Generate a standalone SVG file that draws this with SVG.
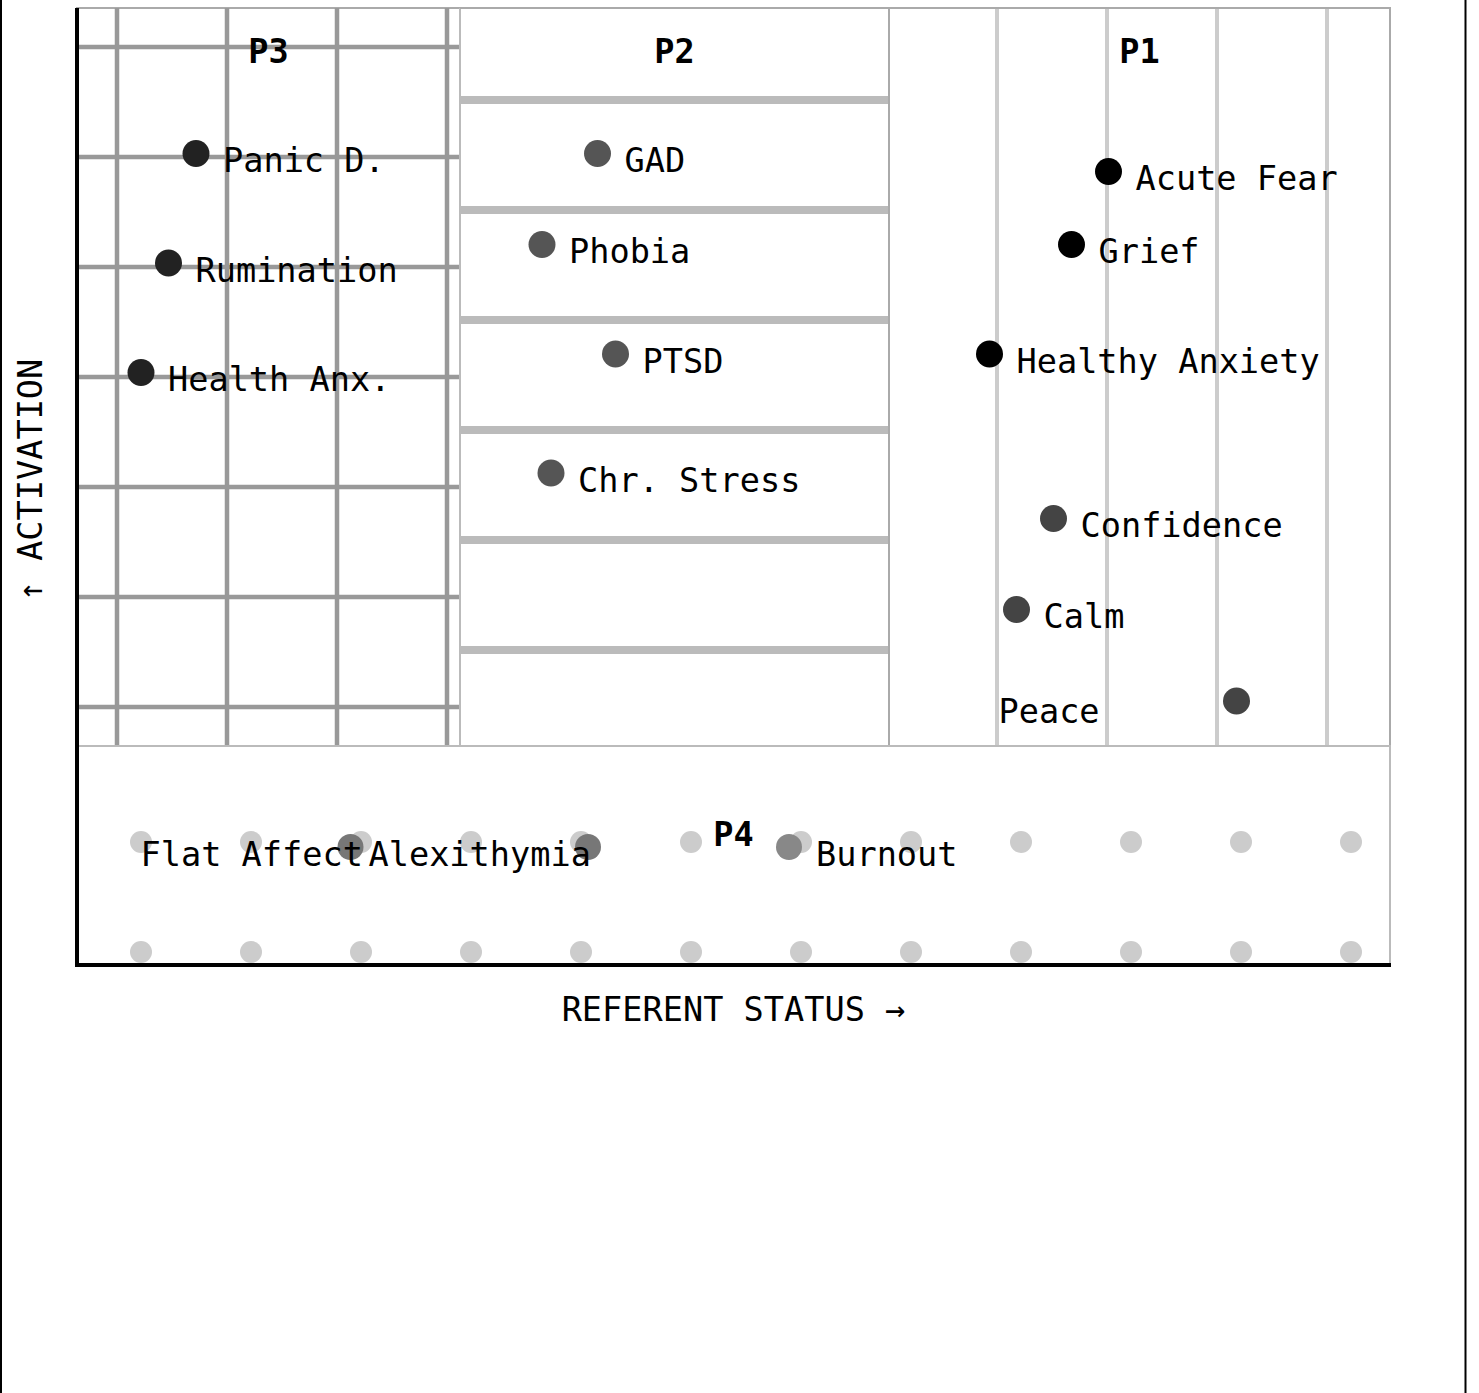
<svg xmlns="http://www.w3.org/2000/svg" width="1479" height="1393" viewBox="0 0 1479 1393">
<style>
  .lbl { font-family: "DejaVu Sans Mono", "Liberation Mono", monospace; font-size: 33.6px; fill: #000; }
  .ptitle { font-family: "DejaVu Sans Mono", "Liberation Mono", monospace; font-size: 33.6px; font-weight: bold; fill: #000; text-anchor: middle; }
  .region { fill: #fff; stroke: #aaa; stroke-width: 2; }
  .g3 { stroke: #999; stroke-width: 4.5; }
  .g2 { stroke: #bbb; stroke-width: 8; }
  .g1 { stroke: #ccc; stroke-width: 4; }
  .dot { fill: #ccc; }
  .axis { stroke: #000; stroke-width: 4; }
</style>
<rect x="0" y="0" width="1479" height="1393" fill="#fff"/>
<g id="frame">
  <line x1="1" y1="0" x2="1" y2="1393" stroke="#000" stroke-width="2"/>
  <line x1="1465.5" y1="0" x2="1465.5" y2="1393" stroke="#000" stroke-width="2"/>
</g>

<g id="region-P3">
  <rect class="region" x="77" y="8" width="383" height="738"/>
  <g class="g3">
    <line x1="117" y1="8" x2="117" y2="746"/>
    <line x1="227" y1="8" x2="227" y2="746"/>
    <line x1="337" y1="8" x2="337" y2="746"/>
    <line x1="447" y1="8" x2="447" y2="746"/>
    <line x1="77" y1="47" x2="460" y2="47"/>
    <line x1="77" y1="157" x2="460" y2="157"/>
    <line x1="77" y1="267" x2="460" y2="267"/>
    <line x1="77" y1="377" x2="460" y2="377"/>
    <line x1="77" y1="487" x2="460" y2="487"/>
    <line x1="77" y1="597" x2="460" y2="597"/>
    <line x1="77" y1="707" x2="460" y2="707"/>
  </g>
  <line x1="460" y1="8" x2="460" y2="746" stroke="#bbb" stroke-width="2"/>
  <text class="ptitle" x="268.5" y="62.5">P3</text>
</g>

<g id="region-P2">
  <rect class="region" x="460" y="8" width="429" height="738" stroke="none"/>
  <g class="g2">
    <line x1="461" y1="100" x2="888" y2="100"/>
    <line x1="461" y1="210" x2="888" y2="210"/>
    <line x1="461" y1="320" x2="888" y2="320"/>
    <line x1="461" y1="430" x2="888" y2="430"/>
    <line x1="461" y1="540" x2="888" y2="540"/>
    <line x1="461" y1="650" x2="888" y2="650"/>
  </g>
  <line x1="460" y1="8" x2="460" y2="746" stroke="#bbb" stroke-width="2"/>
  <line x1="889" y1="8" x2="889" y2="746" stroke="#aaa" stroke-width="2"/>
  <line x1="460" y1="8" x2="889" y2="8" stroke="#aaa" stroke-width="2"/>
  <text class="ptitle" x="674.5" y="62.5">P2</text>
</g>

<g id="region-P1">
  <g class="g1">
    <line x1="997" y1="8" x2="997" y2="746"/>
    <line x1="1107" y1="8" x2="1107" y2="746"/>
    <line x1="1217" y1="8" x2="1217" y2="746"/>
    <line x1="1327" y1="8" x2="1327" y2="746"/>
  </g>
  <rect x="889" y="8" width="501" height="738" fill="none" stroke="#aaa" stroke-width="2"/>
  <text class="ptitle" x="1139.5" y="62.5">P1</text>
</g>

<g id="region-P4">
  <rect x="77" y="746" width="1313" height="219" fill="none" stroke="#bbb" stroke-width="2"/>
  <g class="dot">
    <circle cx="141" cy="842" r="11"/><circle cx="251" cy="842" r="11"/><circle cx="361" cy="842" r="11"/>
    <circle cx="471" cy="842" r="11"/><circle cx="581" cy="842" r="11"/><circle cx="691" cy="842" r="11"/>
    <circle cx="801" cy="842" r="11"/><circle cx="911" cy="842" r="11"/><circle cx="1021" cy="842" r="11"/>
    <circle cx="1131" cy="842" r="11"/><circle cx="1241" cy="842" r="11"/><circle cx="1351" cy="842" r="11"/>
    <circle cx="141" cy="952" r="11"/><circle cx="251" cy="952" r="11"/><circle cx="361" cy="952" r="11"/>
    <circle cx="471" cy="952" r="11"/><circle cx="581" cy="952" r="11"/><circle cx="691" cy="952" r="11"/>
    <circle cx="801" cy="952" r="11"/><circle cx="911" cy="952" r="11"/><circle cx="1021" cy="952" r="11"/>
    <circle cx="1131" cy="952" r="11"/><circle cx="1241" cy="952" r="11"/><circle cx="1351" cy="952" r="11"/>
  </g>
  <text class="ptitle" x="733.5" y="846">P4</text>
</g>

<g id="axes">
  <line class="axis" x1="77" y1="8" x2="77" y2="967"/>
  <line class="axis" x1="75" y1="965" x2="1391" y2="965"/>
  <text class="lbl" x="733.5" y="1021" text-anchor="middle">REFERENT STATUS →</text>
  <text class="lbl" x="0" y="0" text-anchor="middle" transform="translate(42 480) rotate(-90)">↑ ACTIVATION</text>
</g>

<g id="node-panic"><circle cx="196" cy="153.5" r="13.5" fill="#222"/><text class="lbl" x="223" y="172">Panic D.</text></g>
<g id="node-rumination"><circle cx="168.5" cy="263" r="13.5" fill="#222"/><text class="lbl" x="195.5" y="281.5">Rumination</text></g>
<g id="node-health-anx"><circle cx="141" cy="372.5" r="13.5" fill="#222"/><text class="lbl" x="168" y="391">Health Anx.</text></g>

<g id="node-gad"><circle cx="597.5" cy="153.5" r="13.5" fill="#555"/><text class="lbl" x="624.5" y="172">GAD</text></g>
<g id="node-phobia"><circle cx="542" cy="244.5" r="13.5" fill="#555"/><text class="lbl" x="569" y="263">Phobia</text></g>
<g id="node-ptsd"><circle cx="615.5" cy="354" r="13.5" fill="#555"/><text class="lbl" x="642.5" y="372.5">PTSD</text></g>
<g id="node-chr-stress"><circle cx="551" cy="473" r="13.5" fill="#555"/><text class="lbl" x="578" y="491.5">Chr. Stress</text></g>

<g id="node-acute-fear"><circle cx="1108.5" cy="171.5" r="13.5" fill="#000"/><text class="lbl" x="1135.5" y="190">Acute Fear</text></g>
<g id="node-grief"><circle cx="1071.5" cy="244.5" r="13.5" fill="#000"/><text class="lbl" x="1098.5" y="263">Grief</text></g>
<g id="node-healthy-anxiety"><circle cx="989.5" cy="354" r="13.5" fill="#000"/><text class="lbl" x="1016.5" y="372.5">Healthy Anxiety</text></g>
<g id="node-confidence"><circle cx="1053.5" cy="518.5" r="13.5" fill="#444"/><text class="lbl" x="1080.5" y="537">Confidence</text></g>
<g id="node-calm"><circle cx="1016.5" cy="609.5" r="13.5" fill="#444"/><text class="lbl" x="1043.5" y="628">Calm</text></g>
<g id="node-peace"><circle cx="1236.5" cy="701" r="13.5" fill="#444"/><text class="lbl" x="998.5" y="723">Peace</text></g>

<g id="node-flat-affect"><circle cx="350.5" cy="847" r="13" fill="#777"/><text class="lbl" x="140.5" y="866">Flat Affect</text></g>
<g id="node-alexithymia"><circle cx="588" cy="847" r="13" fill="#777"/><text class="lbl" x="368.5" y="866">Alexithymia</text></g>
<g id="node-burnout"><circle cx="789" cy="847" r="13" fill="#888"/><text class="lbl" x="816" y="866">Burnout</text></g>

<g id="connectors"></g>
</svg>
